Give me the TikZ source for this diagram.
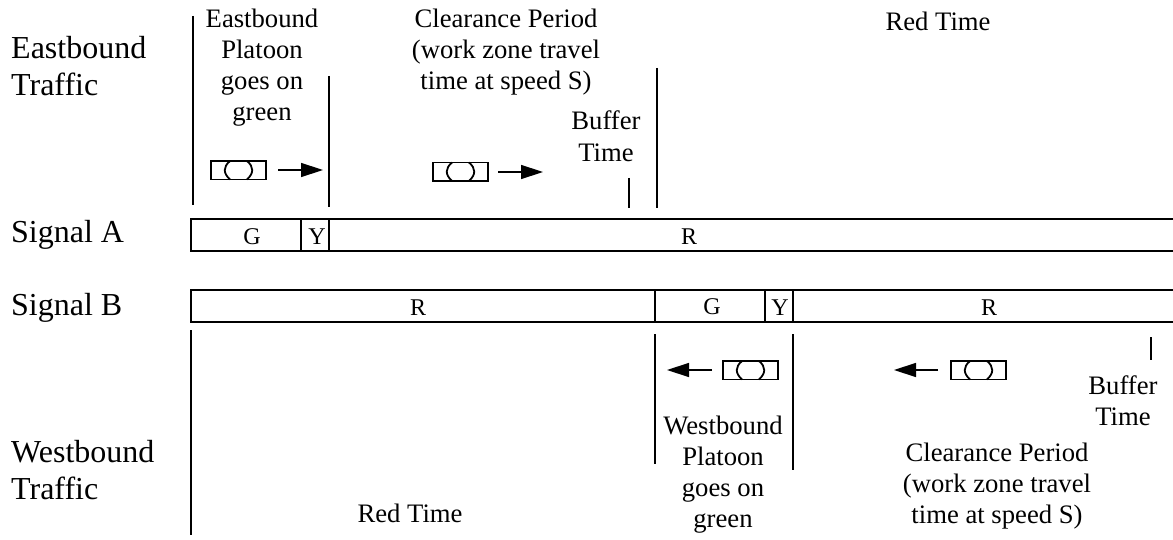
\documentclass[tikz,border=0pt]{standalone}
\usepackage{fontspec}
\setmainfont{Liberation Serif}
\usetikzlibrary{arrows.meta}
\tikzset{
  sidelabel/.style={anchor=base west, inner sep=0pt, font=\fontsize{32}{32}\selectfont},
  notelabel/.style={anchor=base, inner sep=0pt, font=\fontsize{26.67}{26.67}\selectfont},
  celllabel/.style={anchor=base, inner sep=0pt, font=\fontsize{24}{24}\selectfont},
  sigcell/.style={draw, line width=1.6pt, anchor=north west, inner sep=0pt, outer sep=0pt, minimum height=32pt},
  timeline/.style={line width=1.5pt},
  travelarrow/.style={line width=1.4pt, -{Triangle[length=22pt,width=14pt]}},
}
\newcommand{\vehicleBox}[2]{
  \draw[line width=1.5pt] (#1,#2) rectangle (#1+55,#2+18.5);
  \draw[line width=1.8pt] (#1+19,#2) .. controls (#1+12,#2+6) and (#1+12,#2+12) .. (#1+19,#2+18.5);
  \draw[line width=1.8pt] (#1+36,#2) .. controls (#1+43,#2+6) and (#1+43,#2+12) .. (#1+36,#2+18.5);
}
\begin{document}
\begin{tikzpicture}[x=1pt,y=-1pt]
\useasboundingbox (0,0) rectangle (1173,540);
% side labels
\node[sidelabel] (eastA) at (11,59) {Eastbound};
\node[sidelabel] (eastB) at (11,95.5) {Traffic};
\node[sidelabel] (sigA) at (11,243) {Signal A};
\node[sidelabel] (sigB) at (11,315) {Signal B};
\node[sidelabel] (westA) at (11,462) {Westbound};
\node[sidelabel] (westB) at (11,499) {Traffic};
% signal bars
\node[sigcell, minimum width=110pt] (ag) at (191,219) {};
\node[sigcell, minimum width=28pt] (ay) at (301,219) {};
\node[sigcell, minimum width=860pt] (ar) at (329,219) {};
\node[sigcell, minimum width=464pt] (br) at (191,290) {};
\node[sigcell, minimum width=110pt] (bg) at (655,290) {};
\node[sigcell, minimum width=28pt] (by) at (765,290) {};
\node[sigcell, minimum width=400pt] (bs) at (793,290) {};
\node[celllabel] (agt) at (252,245) {G};
\node[celllabel] (ayt) at (317,245) {Y};
\node[celllabel] (art) at (689,245) {R};
\node[celllabel] (brt) at (418,316) {R};
\node[celllabel] (bgt) at (712,314) {G};
\node[celllabel] (byt) at (780,316) {Y};
\node[celllabel] (bst) at (989,316) {R};
% top texts
\node[notelabel] (t1) at (262,27.5) {Eastbound};
\node[notelabel] (t2) at (262,58.5) {Platoon};
\node[notelabel] (t3) at (262,89.5) {goes on};
\node[notelabel] (t4) at (262,120.5) {green};
\node[notelabel] (t5) at (506,27.5) {Clearance Period};
\node[notelabel] (t6) at (506,58.5) {(work zone travel};
\node[notelabel] (t7) at (506,89.5) {time at speed S)};
\node[notelabel] (t8) at (606,129.5) {Buffer};
\node[notelabel] (t9) at (606,161.5) {Time};
\node[notelabel] (t10) at (938,30.5) {Red Time};
% bottom texts
\node[notelabel] (b1) at (723,434) {Westbound};
\node[notelabel] (b2) at (723,465) {Platoon};
\node[notelabel] (b3) at (723,496) {goes on};
\node[notelabel] (b4) at (723,527) {green};
\node[notelabel] (b5) at (997,461.5) {Clearance Period};
\node[notelabel] (b6) at (997,492.5) {(work zone travel};
\node[notelabel] (b7) at (997,523.5) {time at speed S)};
\node[notelabel] (b8) at (1123,394) {Buffer};
\node[notelabel] (b9) at (1123,425) {Time};
\node[notelabel] (b10) at (410,522) {Red Time};
% time marks
\draw[timeline] (193,16) -- (193,205);
\draw[timeline] (329,76) -- (329,207);
\draw[timeline] (629,178) -- (629,208);
\draw[timeline] (657,68) -- (657,208);
\draw[timeline] (191,330) -- (191,535);
\draw[timeline] (655,334) -- (655,464);
\draw[timeline] (793,334) -- (793,470);
\draw[timeline] (1151,337) -- (1151,360);
% vehicles
\vehicleBox{211}{161}
\vehicleBox{433}{162.5}
\vehicleBox{723}{361}
\vehicleBox{951}{361}
\coordinate (e1a) at (278,170);
\coordinate (e1b) at (323,170);
\coordinate (e2a) at (498,172);
\coordinate (e2b) at (543,172);
\coordinate (w1a) at (712,370);
\coordinate (w1b) at (667,370);
\coordinate (w2a) at (938,370);
\coordinate (w2b) at (894,370);
\draw[travelarrow] (e1a) -- (e1b);
\draw[travelarrow] (e2a) -- (e2b);
\draw[travelarrow] (w1a) -- (w1b);
\draw[travelarrow] (w2a) -- (w2b);
\end{tikzpicture}
\end{document}
